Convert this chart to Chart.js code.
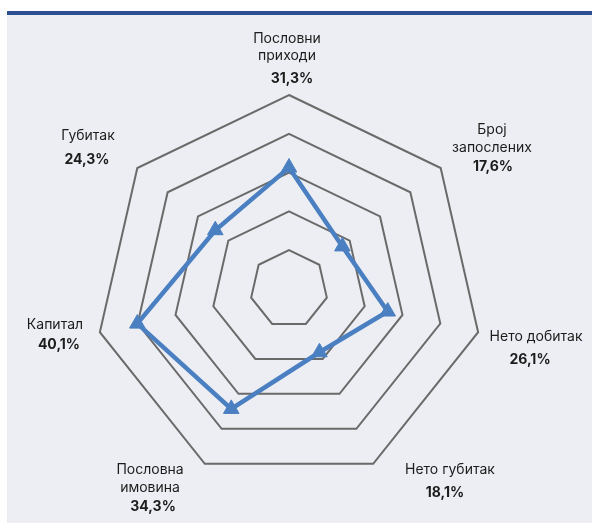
<!DOCTYPE html>
<html>
<head>
<meta charset="utf-8">
<script src="https://cdn.jsdelivr.net/npm/chart.js@4.4.1/dist/chart.umd.min.js"></script>
<style>
  html, body { margin: 0; padding: 0; background: #ffffff; }
  .panel {
    position: absolute; left: 7px; top: 11px; width: 585px; height: 512px;
    background: #edeef3; border-top: 4px solid #2d4e90;
    box-sizing: border-box;
  }
  .wrap { position: absolute; left: 0; top: 0; width: 592px; height: 523px; }
</style>
</head>
<body>
<div class="panel"></div>
<div class="wrap"><canvas class="radarCanvas" width="592" height="523"></canvas></div>
<script>

// categories and values (percent)
const categories = [
    ['Пословни', 'приходи'],
    ['Број', 'запослених'],
    ['Нето добитак'],
    ['Нето губитак'],
    ['Пословна', 'имовина'],
    ['Капитал'],
    ['Губитак']
];
const values = [31.3, 17.6, 26.1, 18.1, 34.3, 40.1, 24.3];
const valueLabels = ['31,3%', '17,6%', '26,1%', '18,1%', '34,3%', '40,1%', '24,3%'];

// label placement: nudge of the first line from the point 20px past the outer ring,
// line spacing, x shift of the bold value and its gap below the last line
const labelOffsets = [
    {dx: -2, dy: -36.5, lh: 17, vdx: 5, gap: 23},
    {dx: 35.7, dy: -25.6, lh: 18, vdx: 1, gap: 19},
    {dx: 38.4, dy: 0.4, lh: 18, vdx: -6, gap: 23},
    {dx: 68.1, dy: -11.8, lh: 18, vdx: -5, gap: 23},
    {dx: -46.1, dy: -11.8, lh: 18, vdx: 3, gap: 19},
    {dx: -25.4, dy: -11.6, lh: 18, vdx: 4, gap: 20},
    {dx: -33.7, dy: -19.9, lh: 18, vdx: -1, gap: 24}
];

const labelPlugin = {
    id: 'labelPlugin',
    afterDraw(chart) {
        const scale = chart.scales.r;
        const ctx = chart.ctx;
        ctx.save();
        ctx.textAlign = 'center';
        ctx.textBaseline = 'middle';
        ctx.fillStyle = '#1c1c1c';
        categories.forEach((lines, i) => {
            const o = labelOffsets[i];
            const p = scale.getPointPosition(i, scale.drawingArea + 20);
            const x = p.x + o.dx;
            let y = p.y + o.dy;
            ctx.font = '14px Inter, "Noto Sans", sans-serif';
            lines.forEach((line, k) => {
                if (k > 0) y += o.lh;
                ctx.fillText(line, x, y);
            });
            ctx.font = 'bold 14px Inter, "Noto Sans", sans-serif';
            ctx.fillText(valueLabels[i], x + o.vdx, y + o.gap);
        });
        ctx.restore();
    }
};

const radarCtx = document.querySelector('.radarCanvas').getContext('2d');

const radarChart = new Chart(radarCtx, {
    type: 'radar',
    data: {
        labels: categories,
        datasets: [{
            data: values,
            borderColor: '#4a7fc1',
            backgroundColor: 'rgba(0,0,0,0)',
            borderWidth: 4.5,
            pointStyle: 'triangle',
            pointRadius: 9,
            pointBackgroundColor: '#4a7fc1',
            pointBorderColor: '#4a7fc1',
            pointBorderWidth: 1,
            fill: false
        }]
    },
    options: {
        responsive: false,
        animation: false,
        layout: {padding: {left: 95, top: 95, right: 109, bottom: 40}},
        plugins: {legend: {display: false}, tooltip: {enabled: false}},
        scales: {
            r: {
                min: 0,
                max: 50,
                ticks: {display: false, stepSize: 10},
                grid: {color: '#6a6a6a', lineWidth: 2},
                angleLines: {display: false},
                pointLabels: {display: false}
            }
        }
    },
    plugins: [labelPlugin]
});

</script>
</body>
</html>
